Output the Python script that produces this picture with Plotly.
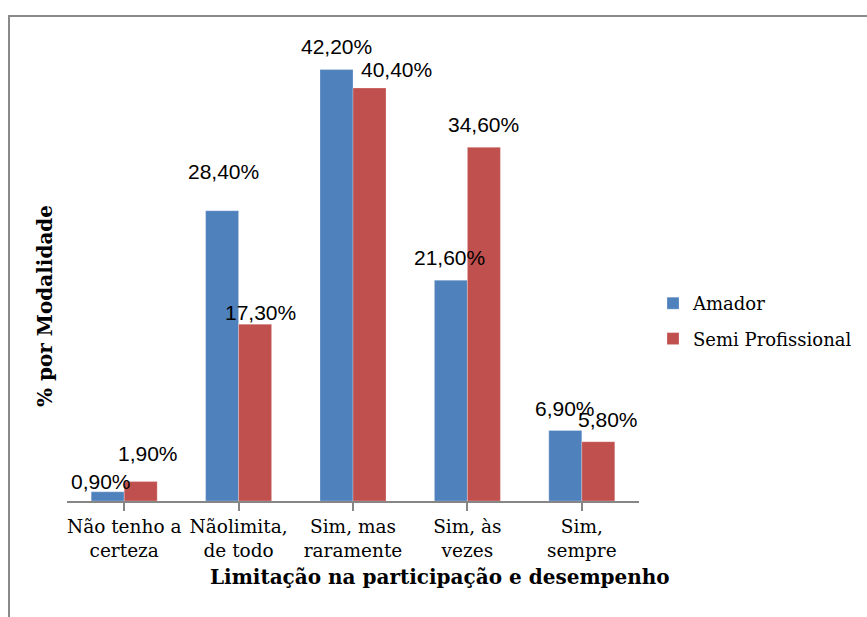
import plotly.graph_objects as go

categories = ["Não tenho a<br>certeza", "Nãolimita,<br>de todo", "Sim, mas<br>raramente",
              "Sim, às<br>vezes", "Sim,<br>sempre"]
amador = [0.9, 28.4, 42.2, 21.6, 6.9]
semi = [1.9, 17.3, 40.4, 34.6, 5.8]
amador_labels = ["0,90%", "28,40%", "42,20%", "21,60%", "6,90%"]
semi_labels = ["1,90%", "17,30%", "40,40%", "34,60%", "5,80%"]

# label offsets in pixels (dx, dy above bar top) -- styling, not data
amador_off = [(-7, 10), (1, 39), (0, 23), (-1, 23), (0, 22)]
semi_off = [(7, 28), (5, 12), (27, 19), (0, 23), (10, 22)]

BLUE = "#4F81BD"
RED = "#C0504D"
SERIF = "DejaVu Serif"
SANS = "Liberation Sans"

PL, PR, PT, PB = 67, 639, 41, 501
W, H = 867, 617
bargap = 0.423
half = (1 - bargap) / 4

fig = go.Figure()
fig.add_trace(go.Bar(x=list(range(len(categories))), y=amador, name="Amador",
                     marker=dict(color=BLUE, line=dict(color="rgba(255,255,255,0.5)", width=0.5)),
                     legendgroup="a"))
fig.add_trace(go.Bar(x=list(range(len(categories))), y=semi, name="Semi Profissional",
                     marker=dict(color=RED, line=dict(color="rgba(255,255,255,0.5)", width=0.5)),
                     legendgroup="b"))

annotations = []
for i, (v, t, (dx, dy)) in enumerate(zip(amador, amador_labels, amador_off)):
    annotations.append(dict(x=i - half, y=v, xref="x", yref="y", text=t, showarrow=False,
                            xanchor="center", yanchor="middle", xshift=dx, yshift=dy,
                            font=dict(family=SANS, size=21, color="#000000")))
for i, (v, t, (dx, dy)) in enumerate(zip(semi, semi_labels, semi_off)):
    annotations.append(dict(x=i + half, y=v, xref="x", yref="y", text=t, showarrow=False,
                            xanchor="center", yanchor="middle", xshift=dx, yshift=dy,
                            font=dict(family=SANS, size=21, color="#000000")))

def px_x(p):
    return (p - PL) / (PR - PL)

def px_y(p):
    return (PB - p) / (PB - PT)

annotations.append(dict(x=px_x(45), y=px_y(306), xref="paper", yref="paper",
                        text="<b>% por Modalidade</b>", textangle=-90, showarrow=False,
                        xanchor="center", yanchor="middle",
                        font=dict(family=SERIF, size=20, color="#000000")))
annotations.append(dict(x=px_x(440), y=px_y(577), xref="paper", yref="paper",
                        text="<b>Limitação na participação e desempenho</b>", showarrow=False,
                        xanchor="center", yanchor="middle",
                        font=dict(family=SERIF, size=20, color="#000000")))

shapes = [dict(type="rect", xref="paper", yref="paper",
               x0=px_x(9), x1=px_x(920), y0=px_y(660), y1=px_y(16),
               line=dict(color="#8A8A8A", width=2), layer="below")]

fig.update_layout(
    width=W, height=H,
    margin=dict(l=PL, r=W - PR, t=PT, b=H - PB, pad=0, autoexpand=False),
    plot_bgcolor="white", paper_bgcolor="white",
    barmode="group", bargap=bargap, bargroupgap=0,
    showlegend=True,
    legend=dict(x=px_x(653), y=px_y(285), xanchor="left", yanchor="top",
                font=dict(family=SERIF, size=18, color="#000000"),
                tracegroupgap=9, traceorder="grouped", bgcolor="rgba(0,0,0,0)",
                itemwidth=30),
    xaxis=dict(tickmode="array", tickvals=list(range(len(categories))), ticktext=categories,
               range=[-0.5, len(categories) - 0.5],
               showline=True, linecolor="#868686", linewidth=1.5,
               ticks="outside", tickson="boundaries", ticklen=8, tickcolor="#868686", tickwidth=1.5,
               tickfont=dict(family=SERIF, size=18.5, color="#000000"),
               showgrid=False, zeroline=False, fixedrange=True),
    yaxis=dict(range=[0, 45], showticklabels=False, showgrid=False, zeroline=False,
               showline=False, ticks=""),
    annotations=annotations,
    shapes=shapes,
)

fig.write_html("out.html")
